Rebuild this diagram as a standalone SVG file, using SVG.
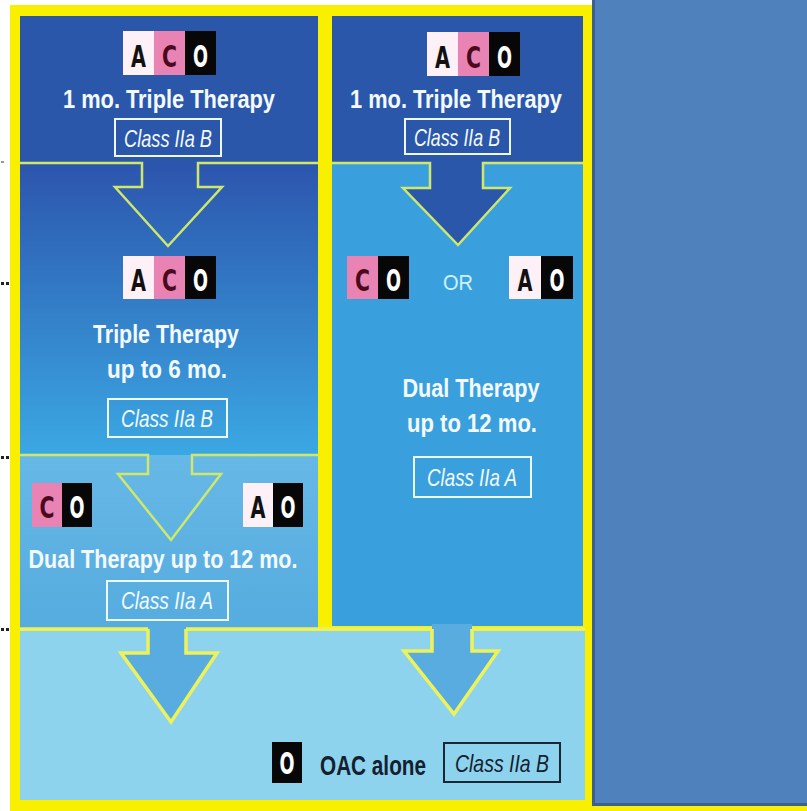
<svg xmlns="http://www.w3.org/2000/svg" width="807" height="811" viewBox="0 0 807 811">
<defs>
<style>
.t{font-family:"Liberation Sans",Arial,sans-serif;font-weight:bold;fill:#F3FAFF;text-anchor:middle;}
.cls{font-family:"Liberation Sans",Arial,sans-serif;font-style:italic;fill:#F3FAFF;text-anchor:middle;font-size:24px;}
.clsbox{fill:none;stroke:#EEF8FF;stroke-width:2;}
.chip{font-family:"DejaVu Sans Condensed","DejaVu Sans",sans-serif;font-weight:bold;font-size:30px;text-anchor:middle;}
.ca{fill:#FDF1F7;}
.cc{fill:#E883B4;}
.co{fill:#070707;}
.la{fill:#111111;}
.lc{fill:#4A0A1C;}
.lo{fill:#FFFFFF;}
.edge{fill:none;stroke:#CFE86B;stroke-width:2.5;stroke-linejoin:miter;}
.edgey{fill:none;stroke:#EEF25A;stroke-width:3.5;stroke-linejoin:miter;}
</style>
<linearGradient id="g2" x1="0" y1="0" x2="0" y2="1">
<stop offset="0" stop-color="#2C55AD"/>
<stop offset="1" stop-color="#3BA8E3"/>
</linearGradient>
<linearGradient id="g3" x1="0" y1="0" x2="0" y2="1">
<stop offset="0" stop-color="#66B8E6"/>
<stop offset="1" stop-color="#56ACDF"/>
</linearGradient>
</defs>
<rect x="0" y="0" width="807" height="811" fill="#FFFFFF"/>
<rect x="1" y="161" width="3" height="2" fill="#999999"/>
<rect x="1" y="282" width="3" height="3" fill="#222222"/><rect x="6" y="282" width="3" height="3" fill="#222222"/>
<rect x="1" y="456" width="3" height="3" fill="#222222"/><rect x="6" y="456" width="3" height="3" fill="#222222"/>
<rect x="1" y="628" width="3" height="3" fill="#222222"/><rect x="6" y="628" width="3" height="3" fill="#222222"/>
<rect x="10" y="5" width="800" height="810" fill="#F8F000"/>

<g id="n-top-left">
<rect x="20" y="16" width="298" height="147" fill="#2B57AB"/>
<rect x="123" y="31" width="31" height="44" class="ca"/><rect x="154" y="31" width="31" height="44" class="cc"/><rect x="185" y="31" width="31" height="44" class="co"/>
<text x="138.5" y="67" class="chip la" textLength="15" lengthAdjust="spacingAndGlyphs">A</text>
<text x="169.5" y="67" class="chip lc" textLength="15" lengthAdjust="spacingAndGlyphs">C</text>
<text x="200.5" y="67" class="chip lo" textLength="15" lengthAdjust="spacingAndGlyphs">O</text>
<text x="169" y="108" class="t" font-size="25" textLength="212" lengthAdjust="spacingAndGlyphs">1 mo. Triple Therapy</text>
<rect x="115" y="119" width="106" height="37" class="clsbox"/>
<text x="168" y="147" class="cls" textLength="88" lengthAdjust="spacingAndGlyphs">Class IIa  B</text>
</g>

<g id="n-top-right">
<rect x="332" y="16" width="251" height="147" fill="#2B57AB"/>
<rect x="427" y="32" width="31" height="44" class="ca"/><rect x="458" y="32" width="31" height="44" class="cc"/><rect x="489" y="32" width="31" height="44" class="co"/>
<text x="442.5" y="68" class="chip la" textLength="15" lengthAdjust="spacingAndGlyphs">A</text>
<text x="473.5" y="68" class="chip lc" textLength="15" lengthAdjust="spacingAndGlyphs">C</text>
<text x="504.5" y="68" class="chip lo" textLength="15" lengthAdjust="spacingAndGlyphs">O</text>
<text x="456" y="108" class="t" font-size="25" textLength="212" lengthAdjust="spacingAndGlyphs">1 mo. Triple Therapy</text>
<rect x="405" y="119" width="105" height="35" class="clsbox"/>
<text x="457" y="146" class="cls" textLength="86" lengthAdjust="spacingAndGlyphs">Class IIa  B</text>
</g>

<g id="n-triple-6mo">
<rect x="20" y="163" width="298" height="292" fill="url(#g2)"/>
<rect x="123" y="256" width="31" height="43" class="ca"/><rect x="154" y="256" width="31" height="43" class="cc"/><rect x="185" y="256" width="31" height="43" class="co"/>
<text x="138.5" y="291" class="chip la" textLength="15" lengthAdjust="spacingAndGlyphs">A</text>
<text x="169.5" y="291" class="chip lc" textLength="15" lengthAdjust="spacingAndGlyphs">C</text>
<text x="200.5" y="291" class="chip lo" textLength="15" lengthAdjust="spacingAndGlyphs">O</text>
<text x="166" y="343" class="t" font-size="26" textLength="146" lengthAdjust="spacingAndGlyphs">Triple Therapy</text>
<text x="167" y="378" class="t" font-size="26" textLength="120" lengthAdjust="spacingAndGlyphs">up to 6 mo.</text>
<rect x="108" y="399" width="119" height="38" class="clsbox"/>
<text x="167" y="427" class="cls" textLength="92" lengthAdjust="spacingAndGlyphs">Class IIa  B</text>
</g>

<g id="n-dual-right">
<rect x="332" y="163" width="251" height="463" fill="#3AA0DD"/>
<rect x="347" y="256" width="31" height="43" class="cc"/><rect x="378" y="256" width="31" height="43" class="co"/>
<text x="362.5" y="291" class="chip lc" textLength="15" lengthAdjust="spacingAndGlyphs">C</text>
<text x="393.5" y="291" class="chip lo" textLength="15" lengthAdjust="spacingAndGlyphs">O</text>
<text x="458" y="290" font-family="Liberation Sans,Arial,sans-serif" font-size="22" fill="#CDF2FF" text-anchor="middle" textLength="30" lengthAdjust="spacingAndGlyphs">OR</text>
<rect x="509" y="256" width="32" height="43" class="ca"/><rect x="541" y="256" width="32" height="43" class="co"/>
<text x="525" y="291" class="chip la" textLength="15" lengthAdjust="spacingAndGlyphs">A</text>
<text x="557" y="291" class="chip lo" textLength="15" lengthAdjust="spacingAndGlyphs">O</text>
<text x="471" y="397" class="t" font-size="26" textLength="137" lengthAdjust="spacingAndGlyphs">Dual Therapy</text>
<text x="472" y="432" class="t" font-size="26" textLength="130" lengthAdjust="spacingAndGlyphs">up to 12 mo.</text>
<rect x="414" y="457" width="117" height="40" class="clsbox"/>
<text x="472" y="486" class="cls" textLength="90" lengthAdjust="spacingAndGlyphs">Class IIa  A</text>
</g>

<g id="n-dual-left">
<rect x="20" y="455" width="298" height="173" fill="url(#g3)"/>
<rect x="32" y="483" width="30" height="44" class="cc"/><rect x="62" y="483" width="30" height="44" class="co"/>
<text x="47" y="518" class="chip lc" textLength="15" lengthAdjust="spacingAndGlyphs">C</text>
<text x="77" y="518" class="chip lo" textLength="15" lengthAdjust="spacingAndGlyphs">O</text>
<rect x="243" y="483" width="30" height="44" class="ca"/><rect x="273" y="483" width="30" height="44" class="co"/>
<text x="258" y="518" class="chip la" textLength="15" lengthAdjust="spacingAndGlyphs">A</text>
<text x="288" y="518" class="chip lo" textLength="15" lengthAdjust="spacingAndGlyphs">O</text>
<text x="163" y="568" class="t" font-size="26" textLength="269" lengthAdjust="spacingAndGlyphs">Dual Therapy up to 12 mo.</text>
<rect x="107" y="581" width="121" height="39" class="clsbox"/>
<text x="167" y="609" class="cls" textLength="92" lengthAdjust="spacingAndGlyphs">Class IIa  A</text>
</g>

<g id="n-oac">
<rect x="20" y="631" width="565" height="169" fill="#8DD3EE"/>
<rect x="272" y="742" width="30" height="41" class="co"/>
<text x="287" y="774" class="chip lo" textLength="15" lengthAdjust="spacingAndGlyphs">O</text>
<text x="373" y="775" font-family="Liberation Sans,Arial,sans-serif" font-weight="bold" font-size="27" fill="#15202E" text-anchor="middle" textLength="106" lengthAdjust="spacingAndGlyphs">OAC alone</text>
<rect x="444" y="743" width="116" height="39" fill="none" stroke="#1A2636" stroke-width="2"/>
<text x="502" y="772" font-family="Liberation Sans,Arial,sans-serif" font-style="italic" font-size="24" fill="#15202E" text-anchor="middle" textLength="94" lengthAdjust="spacingAndGlyphs">Class IIa  B</text>
</g>

<g id="connectors">
<path class="edge" d="M20,163 H142 V187 H115 L168,246 L222,187 H198 V163 H318"/>
<path d="M430,160 V188 H403 L458,245 L510,188 H483 V160 Z" fill="#2B57AB"/>
<path class="edge" d="M332,163 H430 V188 H403 L458,245 L510,188 H483 V163 H583"/>
<path class="edge" d="M20,455 H148 V474 H118 L171,540 L221,474 H192 V455 H318"/>
<path class="edgey" d="M20,629 H585"/>
<path d="M148,624 V653 H121 L171,722 L217,653 H186 V624 Z" fill="#58ACE0"/>
<path class="edgey" d="M148,629 V653 H121 L171,722 L217,653 H186 V629"/>
<path d="M432,624 V651 H404 L454,714 L498,651 H472 V624 Z" fill="#58ACE0"/>
<path class="edgey" d="M432,629 V651 H404 L454,714 L498,651 H472 V629"/>
</g>

<rect x="593.5" y="-2" width="216" height="806.5" fill="#4F81BD" stroke="#3B5F8F" stroke-width="3"/>
</svg>
